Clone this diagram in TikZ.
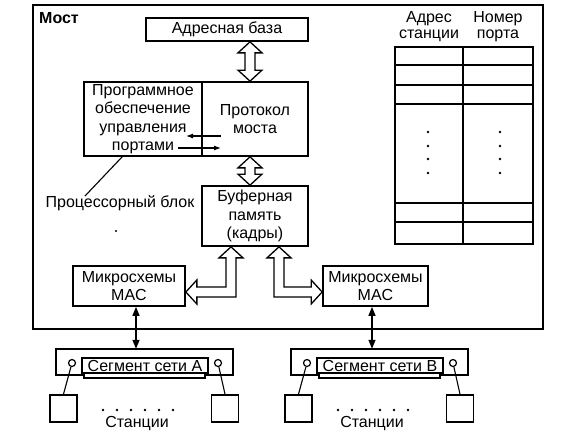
\documentclass[tikz,border=0pt]{standalone}
\usepackage{fontspec}
\setmainfont{Liberation Sans}
\usetikzlibrary{arrows.meta,calc}
\newcommand\hvarrow[2]{\path[harrow] let \p1=#1, \p2=#2 in
  (\x1,\y1) -- (\x1+12pt,\y1-11pt) -- (\x1+5pt,\y1-11pt) -- (\x1+5pt,\y2+11pt) -- (\x1+12pt,\y2+11pt)
  -- (\x1,\y2) -- (\x1-12pt,\y2+11pt) -- (\x1-5pt,\y2+11pt) -- (\x1-5pt,\y1-11pt) -- (\x1-12pt,\y1-11pt) -- cycle;}
\newcommand\bentleft[3]{\path[harrow] let \p1=#1, \p2=#2, \p3=#3 in
  (\x1,\y1) -- (\x1+12pt,\y1-11pt) -- (\x1+5pt,\y1-11pt) -- (\x1+5pt,\y2-5pt) -- (\x3+11pt,\y2-5pt)
  -- (\x3+11pt,\y2-12pt) -- (\x3,\y2) -- (\x3+11pt,\y2+12pt) -- (\x3+11pt,\y2+5pt) -- (\x1-5pt,\y2+5pt)
  -- (\x1-5pt,\y1-11pt) -- (\x1-12pt,\y1-11pt) -- cycle;}
\newcommand\bentright[3]{\path[harrow] let \p1=#1, \p2=#2, \p3=#3 in
  (\x1,\y1) -- (\x1+12pt,\y1-11pt) -- (\x1+5pt,\y1-11pt) -- (\x1+5pt,\y2+5pt) -- (\x3-11pt,\y2+5pt)
  -- (\x3-11pt,\y2+12pt) -- (\x3,\y2) -- (\x3-11pt,\y2-12pt) -- (\x3-11pt,\y2-5pt) -- (\x1-5pt,\y2-5pt)
  -- (\x1-5pt,\y1-11pt) -- (\x1-12pt,\y1-11pt) -- cycle;}
\begin{document}
\begin{tikzpicture}[x=1pt,y=-1pt,
  every node/.style={font=\fontsize{16}{18.5}\selectfont, inner sep=0pt, align=center},
  box/.style={draw, line width=1.7pt},
  thinline/.style={line width=1.1pt},
  harrow/.style={draw, line width=1.3pt, fill=white, line join=miter},
  tipline/.style={line width=1.3pt, {Triangle[length=9pt,width=7pt]}-{Triangle[length=9pt,width=7pt]}},
  station/.style={box, minimum width=27, minimum height=27},
  port/.style={draw, circle, line width=1.2pt, minimum size=7},
  ]
\useasboundingbox (0,0) rectangle (566,440);
\fill[white] (0,0) rectangle (566,440);

% outer bridge box
\node[box, line width=1.9pt, minimum width=510, minimum height=324] (most) at (288,167) {};
\node[anchor=west, font=\fontsize{16}{18.5}\selectfont\bfseries] (mostlbl) at (39,18) {Мост};

% main blocks
\node[box, minimum width=162, minimum height=23] (ab) at (227,29.5) {Адресная база};
\node[box, minimum width=118, minimum height=74] (prog) at (143,119) {Программное\\обеспечение\\управления\\портами};
\node[box, minimum width=106, minimum height=74] (proto) at (255,119) {Протокол\\моста};
\node[box, minimum width=106, minimum height=60] (buf) at (255,216) {Буферная\\память\\(кадры)};
\node[box, minimum width=112, minimum height=40] (macL) at (129,286) {Микросхемы\\MAC};
\node[box, minimum width=105, minimum height=40] (macR) at (375.5,286) {Микросхемы\\MAC};

% hollow arrows
\coordinate (va) at (250,0);
\hvarrow{(va |- ab.south)}{(va |- proto.north)}
\hvarrow{(va |- proto.south)}{(va |- buf.north)}
\coordinate (cl) at (231,292);
\coordinate (cr) at (279,292);
\bentleft{(cl |- buf.south)}{(cl)}{(cl -| macL.east)}
\bentright{(cr |- buf.south)}{(cr)}{(cr -| macR.west)}

% small arrows between program and protocol
\coordinate (sa1) at (221,136);
\coordinate (sa2) at (186,136);
\coordinate (sb1) at (178,148);
\coordinate (sb2) at (221,148);
\draw[thinline, -{Latex[length=7pt,width=5pt]}] (sa1) -- (sa2);
\draw[thinline, -{Latex[length=7pt,width=5pt]}] (sb1) -- (sb2);

% processor block label
\node (proclbl) at (120,203) {Процессорный блок};
\coordinate (pend) at (85,196);
\draw[thinline] ($(prog.south west)+(39,0)$) -- (pend);
\fill (116,231) circle (1.1);

% table
\node[box, minimum width=138, minimum height=197] (tab) at (464,145.5) {};
\draw[box] (tab.north) ++(-1,0) coordinate (tm) -- (tm |- tab.south);
\foreach \yy in {65,85,104,203,222} \draw[box] (tab.west |- 0,\yy) -- (tab.east |- 0,\yy);
\node[anchor=base] (h1) at (429,22.5) {Адрес};
\node[anchor=base] (h2) at (429,38) {станции};
\node[anchor=base] (h3) at (498,22.5) {Номер};
\node[anchor=base] (h4) at (498,38) {порта};
\foreach \yy in {132,146,159,173} {\fill (428,\yy) circle (1.4); \fill (500,\yy) circle (1.4);}

% segment A
\node[minimum width=177, minimum height=26] (segA) at (144.5,362) {};
\draw[box] (segA.north west) -- (segA.north east) -- (segA.south east) -- ++(-28,0) -- ++(0,3)
  -- ($(segA.south west)+(28,3)$) -- ++(0,-3) -- (segA.south west) -- cycle;
\node[box, line width=1.5pt, minimum width=126, minimum height=15] (lblA) at (145,365.5) {Сегмент сети A};
\node[port] (pA1) at (72,363) {};
\node[port] (pA2) at (218,363) {};
\node[station] (stA1) at (63.5,408.5) {};
\node[station] (stA2) at (225,408.5) {};
\draw[thinline] (pA1) -- (stA1.north);
\draw[thinline] (pA2) -- (stA2.north);
\foreach \i in {0,...,5} \fill (103+14*\i,410) circle (1.3);
\node (stlA) at (137,424) {Станции};
\coordinate (ax) at (136,0);
\draw[tipline] (ax |- macL.south) -- (ax |- segA.north);

% segment B
\node[minimum width=177, minimum height=26] (segB) at (379.5,362) {};
\draw[box] (segB.north west) -- (segB.north east) -- (segB.south east) -- ++(-28,0) -- ++(0,3)
  -- ($(segB.south west)+(28,3)$) -- ++(0,-3) -- (segB.south west) -- cycle;
\node[box, line width=1.5pt, minimum width=126, minimum height=15] (lblB) at (380,365.5) {Сегмент сети B};
\node[port] (pB1) at (307,363) {};
\node[port] (pB2) at (453,363) {};
\node[station] (stB1) at (298.5,408.5) {};
\node[station] (stB2) at (460,408.5) {};
\draw[thinline] (pB1) -- (stB1.north);
\draw[thinline] (pB2) -- (stB2.north);
\foreach \i in {0,...,5} \fill (338+14*\i,410) circle (1.3);
\node (stlB) at (372,424) {Станции};
\coordinate (bx) at (372,0);
\draw[tipline] (bx |- macR.south) -- (bx |- segB.north);
\end{tikzpicture}
\end{document}
